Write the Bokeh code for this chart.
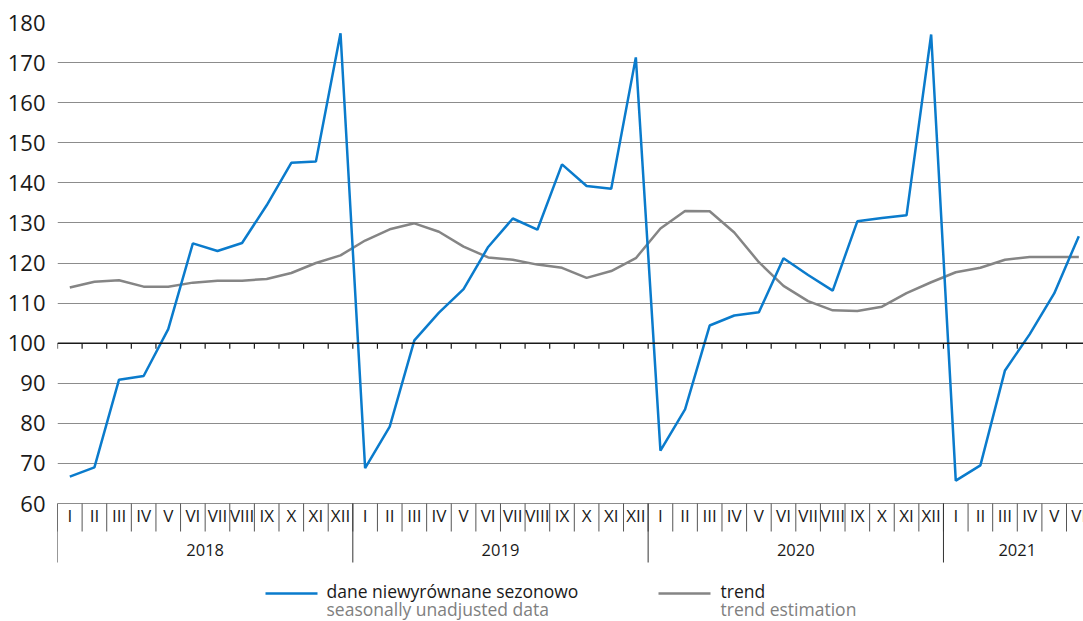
from bokeh.plotting import figure
from bokeh.models import FixedTicker, Span
from bokeh.core.properties import value
from bokeh.embed import file_html
from bokeh.resources import INLINE

# ---------------- data ----------------
month_names = ["I", "II", "III", "IV", "V", "VI", "VII", "VIII", "IX", "X", "XI", "XII"]
years = ["2018", "2019", "2020", "2021"]
months_per_year = [12, 12, 12, 6]

unadjusted = [
    66.7, 69.0, 90.9, 91.8, 103.5, 124.9, 123.0, 125.0, 134.4, 145.0, 145.3, 177.3,
    68.8, 79.2, 100.7, 107.6, 113.5, 124.0, 131.1, 128.3, 144.6, 139.2, 138.5, 171.3,
    73.2, 83.5, 104.4, 106.9, 107.7, 121.2, 117.0, 113.1, 130.4, 131.2, 131.9, 177.0,
    65.7, 69.5, 93.2, 102.2, 112.4, 126.7,
]
trend = [
    113.9, 115.3, 115.7, 114.1, 114.1, 115.1, 115.6, 115.6, 116.0, 117.5, 120.0, 121.9,
    125.6, 128.4, 129.9, 127.8, 124.1, 121.4, 120.8, 119.6, 118.8, 116.3, 118.0, 121.2,
    128.6, 133.0, 132.9, 127.6, 120.2, 114.3, 110.5, 108.2, 108.0, 109.1, 112.5, 115.2,
    117.7, 118.8, 120.8, 121.5, 121.5, 121.5,
]
y_ticks = [60, 70, 80, 90, 100, 110, 120, 130, 140, 150, 160, 170, 180]

legend_pl = ["dane niewyrównane sezonowo", "trend"]
legend_en = ["seasonally unadjusted data", "trend estimation"]

# ---------------- styles ----------------
BLUE = "#0a7bcc"
GRAY = "#858585"
GRID = "#8c8c8c"
TEXT = "#1a1a1a"
FONT = "Open Sans"

month_labels = []
for y, n in zip(years, months_per_year):
    month_labels += month_names[:n]
n_months = len(month_labels)
xs = [i + 0.5 for i in range(n_months)]

# layout: 24.61 px per month, 481 px for 120 units
PX_X = 24.61
PX_Y = 481 / 120.0
W, H = 1083, 621
left, top = 57, 22
frame_w = W - left
frame_h = H - top
x_end = frame_w / PX_X
y_start = 180 - frame_h / PX_Y

def dy(px):  # pixels below the y=60 line -> data units
    return 60 - px / PX_Y

def dx(px):  # page x pixel -> data units
    return (px - left) / PX_X

p = figure(width=W, height=H, output_backend="svg", toolbar_location=None,
           x_range=(0, x_end), y_range=(y_start, 180),
           min_border_left=left, min_border_right=0, min_border_top=top,
           min_border_bottom=0)
p.outline_line_color = None
p.background_fill_color = "white"
p.border_fill_color = "white"
p.xaxis.visible = False
p.xgrid.visible = False

p.yaxis.ticker = FixedTicker(ticks=y_ticks)
p.yaxis.axis_line_color = None
p.yaxis.major_tick_line_color = None
p.yaxis.minor_tick_line_color = None
p.yaxis.major_label_standoff = 6
p.yaxis.major_label_text_font = FONT
p.yaxis.major_label_text_font_size = "22px"
p.yaxis.major_label_text_color = TEXT
p.ygrid.ticker = FixedTicker(ticks=y_ticks)
p.ygrid.grid_line_color = GRID
p.ygrid.grid_line_width = 1

# axis line at 100 with ticks
p.add_layout(Span(location=100, dimension="width", line_color=TEXT, line_width=1.5))
bounds = list(range(n_months + 1))
p.segment(x0=bounds, y0=[100] * len(bounds), x1=bounds, y1=[100 - 1.4] * len(bounds),
          line_color=TEXT, line_width=1.2)

# category separators below the plot
p.segment(x0=bounds, y0=[60] * len(bounds), x1=bounds, y1=[dy(28)] * len(bounds),
          line_color="#555555", line_width=1)
year_starts = []
acc = 0
for n in months_per_year:
    year_starts.append(acc)
    acc += n
p.segment(x0=year_starts, y0=[60] * len(year_starts), x1=year_starts,
          y1=[dy(59)] * len(year_starts), line_color="#333333", line_width=1)

# month labels
p.text(x=xs, y=[dy(12)] * n_months, text=month_labels, text_align="center",
       text_baseline="alphabetic", text_font=value(FONT), text_font_size="17px",
       text_color=TEXT)
# year labels
year_x = [s + n / 2 for s, n in zip(year_starts, months_per_year)]
p.text(x=year_x, y=[dy(46)] * len(years), text=years, text_align="center",
       text_baseline="alphabetic", text_font=value(FONT), text_font_size="16.5px",
       text_color=TEXT)

# series
p.line(xs, trend, line_color=GRAY, line_width=2.5)
p.line(xs, unadjusted, line_color=BLUE, line_width=2.5)

# legend
leg_line_x0 = [dx(265), dx(658)]
leg_line_x1 = [dx(317), dx(710)]
leg_text_x = [dx(326), dx(720)]
p.segment(x0=leg_line_x0, y0=[dy(90)] * 2, x1=leg_line_x1, y1=[dy(90)] * 2,
          line_color=[BLUE, GRAY], line_width=2.5)
p.text(x=leg_text_x, y=[dy(87)] * 2, text=legend_pl, text_align="left",
       text_baseline="alphabetic", text_font=value(FONT), text_font_size="17.5px",
       text_color=TEXT)
p.text(x=leg_text_x, y=[dy(105)] * 2, text=legend_en, text_align="left",
       text_baseline="alphabetic", text_font=value(FONT), text_font_size="17.5px",
       text_color="#808080")

open("out.html", "w").write(file_html(p, INLINE))
